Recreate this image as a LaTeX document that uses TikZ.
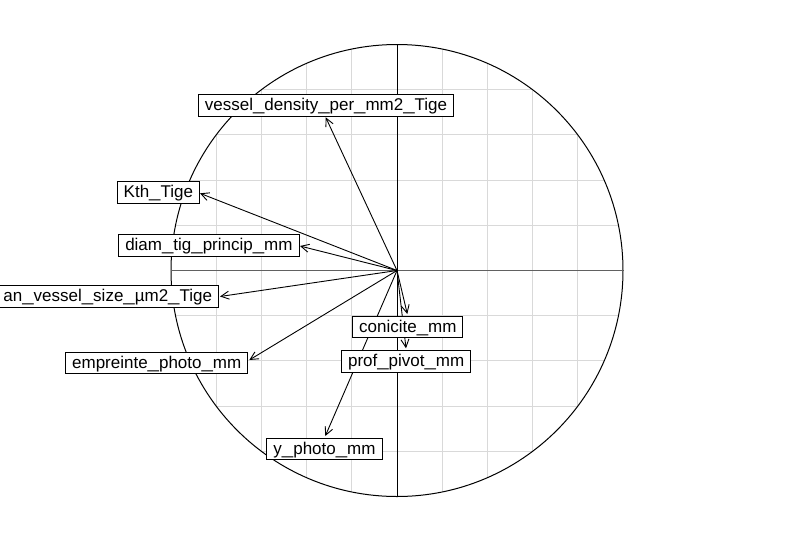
\documentclass[tikz,border=0pt]{standalone}
\usepackage{fontspec}
\setmainfont{Liberation Sans}
\newfontfamily\uscfont[FakeStretch=1.2]{Liberation Sans}
\usetikzlibrary{arrows.meta}
\newcommand\usc{{\uscfont\_}}

\begin{document}
\begin{tikzpicture}[x=1pt,y=-1pt,
	lab/.style={draw, line width=1pt, fill=white, font=\fontsize{17}{20}\selectfont, inner xsep=6.5pt, inner ysep=0pt, text height=16pt, text depth=5.6pt},
	fleche/.style={-{Straight Barb[length=8pt,width=8pt]}, line width=0.9pt}]

	\clip (0,0) rectangle (793,542);
	\coordinate (o) at (397,270.5);

	% Grid
	\begin{scope}
		\clip (o) circle (226);
		\foreach \k in {-4,...,4} {
			\draw [gray!30, line width=1pt] (397+45.2*\k,40) -- (397+45.2*\k,500);
			\draw [gray!30, line width=1pt] (165,270.5+45.2*\k) -- (630,270.5+45.2*\k);
		}
	\end{scope}

	% Circle and axes
	\draw [line width=1pt] (o) circle (226);
	\draw [black!62, line width=1.4pt] (171,270.5) -- (623,270.5);
	\draw [line width=1pt] (397,44.5) -- (397,496.5);

	% Arrow ends
	\coordinate (vd) at (325.7,117.3);
	\coordinate (kth) at (200,193.3);
	\coordinate (diam) at (300,246);
	\coordinate (mvs) at (220,296.5);
	\coordinate (emp) at (249.3,360);
	\coordinate (con) at (407.3,314);
	\coordinate (prof) at (406,348.3);
	\coordinate (yph) at (325.3,436);

	% Arrows
	\foreach \v in {vd,kth,diam,mvs,emp,con,prof,yph}
		\draw [fleche] (o) -- (\v);

	% Labels
	\node [lab, anchor=south] (vdlab) at (326,116.5) {vessel\usc density\usc per\usc mm2\usc Tige};
	\node [lab, anchor=east] (kthlab) at (200,192.5) {Kth\usc Tige};
	\node [lab, anchor=east] (diamlab) at (299.5,245.3) {diam\usc tig\usc princip\usc mm};
	\node [lab, anchor=east] (mvslab) at (219,296.5) {an\usc vessel\usc size\usc µm2\usc Tige};
	\node [lab, anchor=east] (emplab) at (248.3,362.8) {empreinte\usc photo\usc mm};
	\node [lab, anchor=north] (conlab) at (407.8,315.7) {conicite\usc mm};
	\node [lab, anchor=north] (proflab) at (406.2,350) {prof\usc pivot\usc mm};
	\node [lab, anchor=north] (yphlab) at (324.5,437.5) {y\usc photo\usc mm};

\end{tikzpicture}
\end{document}
